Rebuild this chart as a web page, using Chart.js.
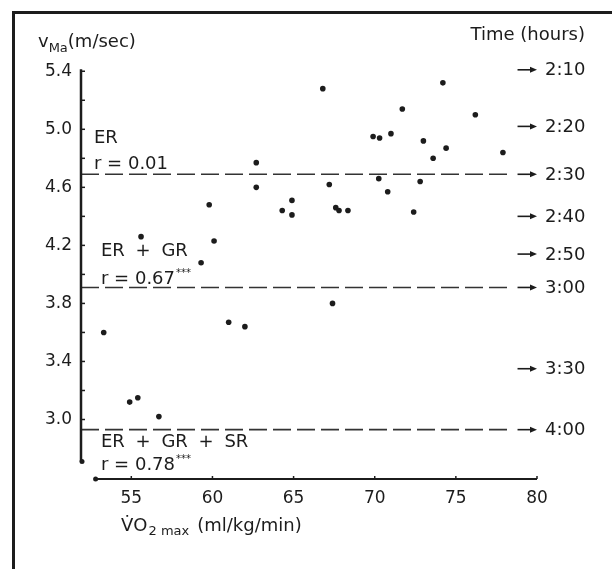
<!DOCTYPE html>
<html>
<head>
<meta charset="utf-8">
<script src="https://cdn.jsdelivr.net/npm/chart.js@4.4.0/dist/chart.umd.min.js"></script>
<style>
  html, body { margin: 0; padding: 0; background: #fff; }
  #wrap { position: relative; width: 612px; height: 569px; overflow: hidden; background: #fff; }
  #frame { position: absolute; left: 12px; top: 11px; width: 640px; height: 640px;
           border-left: 3px solid #1c1c1c; border-top: 3px solid #1c1c1c; }
  canvas { position: absolute; left: 0; top: 0; }
</style>
</head>
<body>
<div id="wrap">
  <div id="frame"></div>
  <canvas id="chart" width="612" height="569"></canvas>
</div>
<script>
// runners: VO2 max (ml/kg/min) vs marathon speed vMa (m/sec)
const vo2max = [53.3, 54.9, 55.4, 55.6, 56.7, 59.3, 59.8, 60.1, 61.0, 62.0,
                62.7, 62.7, 64.3, 64.9, 64.9, 66.8, 67.2, 67.4, 67.6, 67.8,
                68.35, 69.9, 70.3, 70.25, 70.8, 71.0, 71.7, 72.4, 72.8, 73.0,
                73.6, 74.2, 74.4, 76.2, 77.9];
const vMa = [3.60, 3.12, 3.15, 4.26, 3.02, 4.08, 4.48, 4.23, 3.67, 3.64,
             4.77, 4.60, 4.44, 4.51, 4.41, 5.28, 4.62, 3.80, 4.46, 4.44,
             4.44, 4.95, 4.94, 4.66, 4.57, 4.97, 5.14, 4.43, 4.64, 4.92,
             4.80, 5.32, 4.87, 5.10, 4.84];

const xTicks = [55, 60, 65, 70, 75, 80];
const yTicks = [3.0, 3.4, 3.8, 4.2, 4.6, 5.0, 5.4];
const yMinorTicks = [3.2, 3.6, 4.0, 4.4, 4.8, 5.2];

// marathon finishing times on the right, at the speed they stand for
const timeLabels = ['2:10', '2:20', '2:30', '2:40', '2:50', '3:00', '3:30', '4:00'];
const timeSpeeds = [5.41, 5.02, 4.69, 4.40, 4.14, 3.91, 3.35, 2.93];

// groups with their threshold lines
const groupNames = ['ER', 'ER + GR', 'ER + GR + SR'];
const groupR = ['r = 0.01', 'r = 0.67', 'r = 0.78'];
const groupStars = ['', '***', '***'];
const groupLines = [4.69, 3.91, 2.93];

const xMin = 51.9, xMax = 80, yMin = 2.59, yMax = 5.45;
const xAxisStart = 52.8, yAxisEnd = 2.71;
const dashEnd = 78.3, arrowStart = 78.8;

const ink = '#1c1c1c';
const font = 'DejaVu Sans';

function drawPieces(ctx, x, y, pieces) {
  pieces.forEach(p => {
    ctx.font = p.size + 'px "' + font + '"';
    ctx.fillText(p.text, x, y + (p.dy || 0));
    x += ctx.measureText(p.text).width + (p.gap || 0);
  });
}

const decor = {
  id: 'decor',
  afterDraw(chart) {
    const { ctx, chartArea } = chart;
    const xs = chart.scales.x, ys = chart.scales.y;
    const ax = chartArea.left, ay = chartArea.bottom;
    ctx.save();
    ctx.strokeStyle = ink;
    ctx.fillStyle = ink;
    ctx.lineCap = 'butt';

    // y axis with ticks pointing in
    ctx.lineWidth = 2.5;
    ctx.beginPath();
    ctx.moveTo(ax, ys.getPixelForValue(5.4) - 2);
    ctx.lineTo(ax, ys.getPixelForValue(yAxisEnd));
    ctx.stroke();
    ctx.lineWidth = 1.5;
    yTicks.concat(yMinorTicks).forEach(v => {
      const py = ys.getPixelForValue(v);
      ctx.beginPath(); ctx.moveTo(ax, py); ctx.lineTo(ax + 4, py); ctx.stroke();
    });
    ctx.beginPath();
    ctx.arc(ax + 1, ys.getPixelForValue(yAxisEnd), 2.5, 0, Math.PI * 2);
    ctx.fill();

    // x axis
    ctx.lineWidth = 2;
    ctx.beginPath();
    ctx.moveTo(xs.getPixelForValue(xAxisStart), ay);
    ctx.lineTo(xs.getPixelForValue(80), ay);
    ctx.stroke();
    ctx.beginPath();
    ctx.arc(xs.getPixelForValue(xAxisStart), ay, 2.5, 0, Math.PI * 2);
    ctx.fill();
    ctx.lineWidth = 1.5;
    xTicks.forEach(v => {
      const px = xs.getPixelForValue(v);
      ctx.beginPath(); ctx.moveTo(px, ay); ctx.lineTo(px, ay - 3); ctx.stroke();
    });

    // arrows and time labels
    ctx.textBaseline = 'middle';
    ctx.textAlign = 'left';
    const a0 = xs.getPixelForValue(arrowStart), a1 = xs.getPixelForValue(80);
    timeSpeeds.forEach((v, i) => {
      const py = ys.getPixelForValue(v);
      ctx.lineWidth = 1.6;
      ctx.beginPath(); ctx.moveTo(a0, py); ctx.lineTo(a1 - 5, py); ctx.stroke();
      ctx.beginPath();
      ctx.moveTo(a1, py); ctx.lineTo(a1 - 7, py - 3); ctx.lineTo(a1 - 7, py + 3);
      ctx.closePath(); ctx.fill();
      ctx.font = '18px "' + font + '"';
      ctx.fillText(timeLabels[i], a1 + 8, py + 1);
    });

    // axis titles
    ctx.textBaseline = 'alphabetic';
    drawPieces(ctx, 38, 47, [
      { text: 'v', size: 18 },
      { text: 'Ma', size: 13, dy: 5 },
      { text: '(m/sec)', size: 18 }
    ]);
    ctx.font = '18px "' + font + '"';
    ctx.textAlign = 'right';
    ctx.fillText('Time (hours)', a1 + 48, 40);
    ctx.textAlign = 'left';
    drawPieces(ctx, 121, 531, [
      { text: 'V\u0307O', size: 18, gap: 1 },
      { text: '2 max', size: 13, dy: 4, gap: 8 },
      { text: '(ml/kg/min)', size: 18 }
    ]);

    // group labels around the threshold lines
    const offsets = [[13, -31, -5], [20, -31, -3], [20, 17, 40]];
    groupLines.forEach((v, i) => {
      const py = ys.getPixelForValue(v);
      const [dx, d1, d2] = offsets[i];
      ctx.font = '18px "' + font + '"';
      ctx.wordSpacing = i === 0 ? '0px' : '5px';
      ctx.fillText(groupNames[i], ax + dx, py + d1);
      ctx.wordSpacing = '0px';
      drawPieces(ctx, ax + dx, py + d2, [
        { text: groupR[i], size: 18, gap: 1 },
        { text: groupStars[i], size: 10, dy: -8 }
      ]);
    });
    ctx.restore();
  }
};

const lineSets = groupLines.map(v => ({
  type: 'line',
  data: [{ x: xMin, y: v }, { x: dashEnd, y: v }],
  borderColor: '#333',
  borderWidth: 1.6,
  borderDash: [18, 6],
  pointRadius: 0,
  fill: false,
  clip: false
}));

new Chart(document.getElementById('chart'), {
  type: 'scatter',
  data: {
    datasets: [{
      data: vo2max.map((x, i) => ({ x, y: vMa[i] })),
      backgroundColor: ink,
      borderWidth: 0,
      pointRadius: 2.8,
      clip: false
    }, ...lineSets]
  },
  options: {
    responsive: false,
    animation: false,
    layout: { padding: { top: 64, right: 75, left: 0, bottom: 0 } },
    plugins: { legend: { display: false }, tooltip: { enabled: false } },
    scales: {
      x: {
        type: 'linear', min: xMin, max: xMax,
        grid: { display: false, drawTicks: false },
        border: { display: false },
        afterBuildTicks: s => { s.ticks = xTicks.map(v => ({ value: v })); },
        afterFit: s => { s.height = 90; },
        ticks: { padding: 9, color: ink, font: { family: font, size: 17 } }
      },
      y: {
        type: 'linear', min: yMin, max: yMax,
        grid: { display: false, drawTicks: false },
        border: { display: false },
        afterBuildTicks: s => { s.ticks = yTicks.map(v => ({ value: v })); },
        afterFit: s => { s.width = 81; },
        ticks: { padding: 9, color: ink, font: { family: font, size: 17 },
                 callback: v => v.toFixed(1) }
      }
    }
  },
  plugins: [decor]
});
</script>
</body>
</html>
